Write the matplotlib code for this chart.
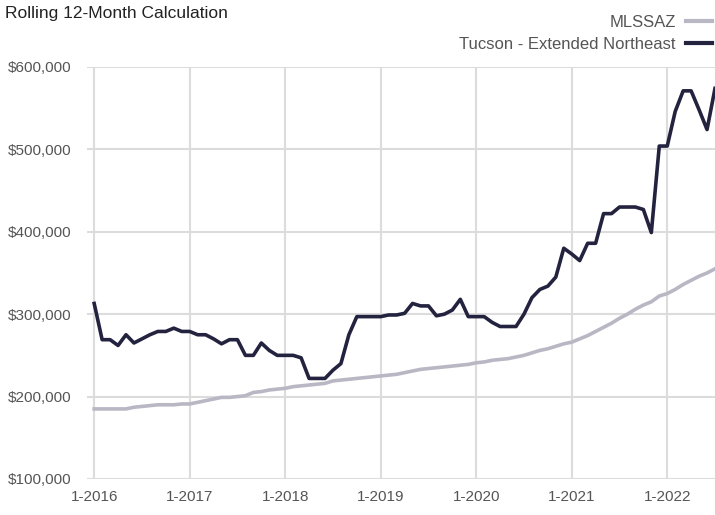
import matplotlib.pyplot as plt
import numpy as np
from matplotlib.lines import Line2D
from matplotlib.ticker import FuncFormatter


# monthly values, 1-2016 .. 7-2022 (in $1000)
MLSSAZ = [185, 185, 185, 185, 185, 187, 188, 189, 190, 190, 190, 191,
          191, 193, 195, 197, 199, 199, 200, 201, 205, 206, 208, 209,
          210, 212, 213, 214, 215, 216, 219, 220, 221, 222, 223, 224,
          225, 226, 227, 229, 231, 233, 234, 235, 236, 237, 238, 239,
          241, 242, 244, 245, 246, 248, 250, 253, 256, 258, 261, 264,
          266, 270, 274, 279, 284, 289, 295, 300, 306, 311, 315, 322,
          325, 330, 336, 341, 346, 350, 355]
TUCSON_NE = [313, 269, 269, 262, 275, 265, 270, 275, 279, 279, 283, 279,
             279, 275, 275, 270, 264, 269, 269, 250, 250, 265, 256, 250,
             250, 250, 247, 222, 222, 222, 232, 240, 275, 297, 297, 297,
             297, 299, 299, 301, 313, 310, 310, 298, 300, 305, 318, 297,
             297, 297, 290, 285, 285, 285, 300, 320, 330, 334, 345, 380,
             373, 365, 386, 386, 422, 422, 430, 430, 430, 427, 399, 504,
             504, 546, 571, 571, 548, 524, 574]
YEAR_LABELS = ['1-2016', '1-2017', '1-2018', '1-2019', '1-2020', '1-2021', '1-2022']

LIGHT = '#b9b7c4'
DARK = '#23233f'
GRID = '#dcdcdc'
TEXT = '#555555'

plt.rcParams['font.family'] = ['Liberation Sans', 'DejaVu Sans']

months = np.arange(len(MLSSAZ))
mls = np.array(MLSSAZ) * 1000
tuc = np.array(TUCSON_NE) * 1000

fig = plt.figure(figsize=(7.15, 5.15), dpi=100)
ax = fig.add_axes([0.1217, 0.070, 0.8783, 0.800])

ax.plot(months, mls, color=LIGHT, lw=2.6, solid_joinstyle='round', zorder=3)
ax.plot(months, tuc, color=DARK, lw=2.6, solid_joinstyle='round', zorder=4)

ax.set_xlim(-0.9, len(MLSSAZ) - 1)
ax.set_ylim(100000, 600000)
ax.set_xticks(np.arange(0, 12 * len(YEAR_LABELS), 12))
ax.set_xticklabels(YEAR_LABELS)
ax.set_yticks(np.arange(100000, 600001, 100000))
ax.yaxis.set_major_formatter(FuncFormatter(lambda v, p: f'${v:,.0f}'))

ax.grid(True, color=GRID, lw=1.5)
ax.set_axisbelow(True)
for s in ax.spines.values():
    s.set_visible(False)
ax.tick_params(length=0, colors=TEXT, labelsize=11)
ax.tick_params(axis='y', pad=11)
ax.tick_params(axis='x', pad=8)

fig.text(0.007, 0.988, 'Rolling 12-Month Calculation', fontsize=12.5, color='#222222',
         ha='left', va='top')

handles = [Line2D([], [], color=LIGHT, lw=3), Line2D([], [], color=DARK, lw=3)]
fig.legend(handles, ['MLSSAZ', 'Tucson - Extended Northeast'], loc='upper right',
           bbox_to_anchor=(1.0, 0.976), frameon=False, markerfirst=False,
           fontsize=12, labelcolor=TEXT, handlelength=1.6, handletextpad=0.6,
           labelspacing=0.42, borderpad=0.1, borderaxespad=0.05)

fig.savefig('out.png', dpi=100)
